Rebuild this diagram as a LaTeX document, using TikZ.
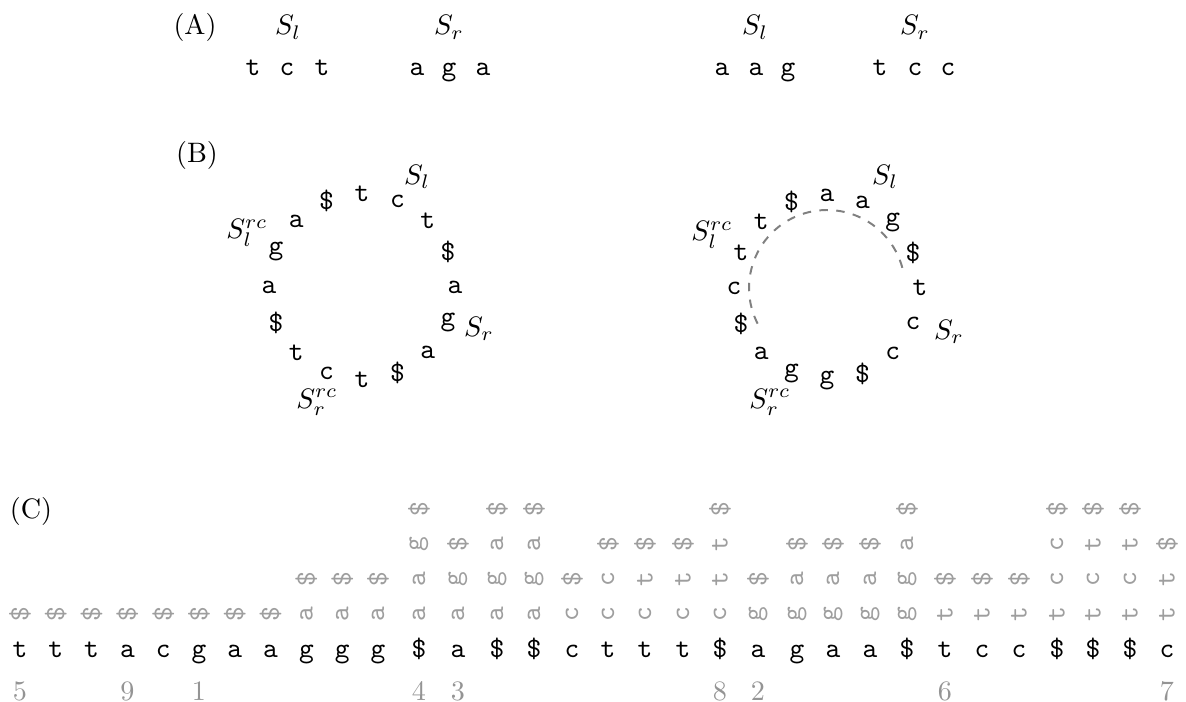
\documentclass[tikz,border=0pt]{standalone}
\usetikzlibrary{calc}
\begin{document}
\begin{tikzpicture}[x=0.0125cm,y=-0.0125cm,
  tc/.style={font=\ttfamily, inner sep=0pt},
  gc/.style={font=\ttfamily, text=black!38, rotate=90, inner sep=0pt},
  num/.style={text=black!42, inner sep=0pt, anchor=base},
  lab/.style={inner sep=0pt},
  arcline/.style={black!50, dashed, line width=0.7pt}]
\useasboundingbox (0,0) rectangle (1186,702);
\def\XS{{20,55.8,91.6,127.4,163.2,199,234.8,270.6,306.4,342.2,378,419,458,497,534,572,608,645,683,720,758,797,833,870,907,945,982,1019,1057,1093,1130,1167}}
% ---------- (A)
\node[lab,anchor=base] (labA) at (195,35) {(A)};
\node[lab,anchor=base] (aSl) at (288,35) {$S_l$};
\node[lab,anchor=base] (aSr) at (449,35) {$S_r$};
\node[lab,anchor=base] (bSl) at (755,35) {$S_l$};
\node[lab,anchor=base] (bSr) at (915,35) {$S_r$};
\foreach \ch/\x [count=\i] in {t/253,c/287,t/322,a/417,g/449,a/483,a/722,a/756,g/788,t/880,c/915,c/948}
  \node[tc,anchor=base] (pa\i) at (\x,76) {\ch};
% ---------- (B)
\node[lab] (labB) at (197,155) {(B)};
\foreach \ch/\a [count=\i] in {t/90,c/67.5,t/45,\$/22.5,a/0,g/-22.5,a/-45,\$/-67.5,t/-90,c/-112.5,t/-135,\$/-157.5,a/180,g/157.5,a/135,\$/112.5}
  \node[tc] (cl\i) at ({362+93*cos(\a)},{287-93*sin(\a)}) {\ch};
\foreach \ch/\a [count=\i] in {a/90,a/67.5,g/45,\$/22.5,t/0,c/-22.5,c/-45,\$/-67.5,g/-90,g/-112.5,a/-135,\$/-157.5,c/180,t/157.5,t/135,\$/112.5}
  \node[tc] (cr\i) at ({827+93*cos(\a)},{288-93*sin(\a)}) {\ch};
\node[lab] (lSl) at (417,177) {$S_l$};
\node[lab] (lSr) at (479,329) {$S_r$};
\node[lab] (lSlrc) at (247,233) {$S_l^{rc}$};
\node[lab] (lSrrc) at (317,402) {$S_r^{rc}$};
\node[lab] (rSl) at (885,177) {$S_l$};
\node[lab] (rSr) at (949,332) {$S_r$};
\node[lab] (rSlrc) at (712,235) {$S_l^{rc}$};
\node[lab] (rSrrc) at (770,402) {$S_r^{rc}$};
\draw[arcline] plot[smooth, domain=15:208, samples=60] ({827+78*cos(\x)},{288-78*sin(\x)});
% ---------- (C)
\node[lab] (labC) at (31,511) {(C)};
\foreach \ch [count=\c] in {t,t,t,a,c,g,a,a,g,g,g,\$,a,\$,\$,c,t,t,t,\$,a,g,a,a,\$,t,c,c,\$,\$,\$,c}
  \node[tc,anchor=base] (k\c) at ({\XS[\c-1]},657) {\ch};
\foreach \ch [count=\c] in {\$,\$,\$,\$,\$,\$,\$,\$,a,a,a,a,a,a,a,c,c,c,c,c,g,g,g,g,g,t,t,t,t,t,t,t}
  \node[gc] (ra\c) at ({\XS[\c-1]},614) {\ch};
\foreach \c/\ch in {9/\$,10/\$,11/\$,12/a,13/g,14/g,15/g,16/\$,17/c,18/t,19/t,20/t,21/\$,22/a,23/a,24/a,25/g,26/\$,27/\$,28/\$,29/c,30/c,31/c,32/t}
  \node[gc] (rb\c) at ({\XS[\c-1]},579) {\ch};
\foreach \c/\ch in {12/g,13/\$,14/a,15/a,17/\$,18/\$,19/\$,20/t,22/\$,23/\$,24/\$,25/a,29/c,30/t,31/t,32/\$}
  \node[gc] (rc\c) at ({\XS[\c-1]},544) {\ch};
\foreach \c in {12,14,15,20,25,29,30,31}
  \node[gc] (rd\c) at ({\XS[\c-1]},509) {\$};
\foreach \c/\n in {1/5,4/9,6/1,12/4,13/3,20/8,21/2,26/6,32/7}
  \node[num] (n\c) at ({\XS[\c-1]},700) {\n};
\end{tikzpicture}
\end{document}
